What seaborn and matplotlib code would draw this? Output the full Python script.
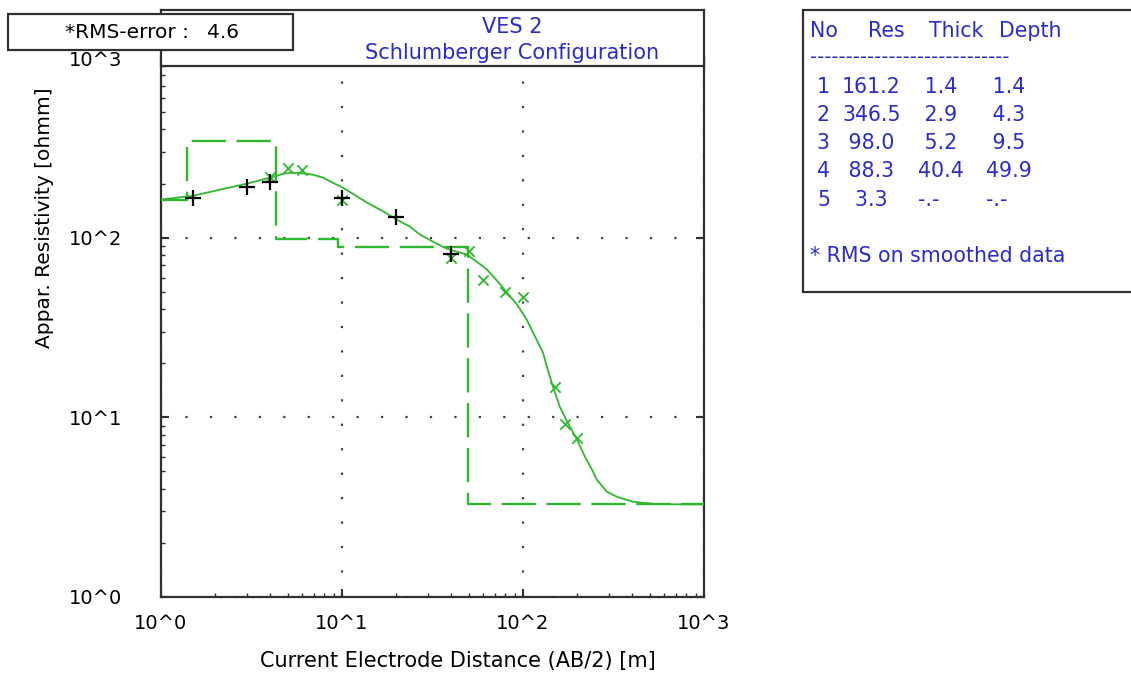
import matplotlib
matplotlib.use("Agg")
import matplotlib.pyplot as plt
from matplotlib.patches import Rectangle
from matplotlib.ticker import FixedLocator, LogLocator, NullFormatter
import pandas as pd
import seaborn as sns

# Field sounding: half electrode spacing AB/2 [m] and apparent resistivity [ohm m]
raw_ab2 = [1.5, 3, 4, 10, 20, 40]
raw_rho = [167, 192, 205, 167, 131, 81]
smooth_ab2 = [4, 5, 6, 10, 40, 50, 60, 80, 100, 150, 170, 200]
smooth_rho = [219, 245, 239, 163, 77, 84, 58, 50, 47, 14.8, 9.2, 7.7]

# Forward response of the layered model
curve_ab2 = [1.0, 1.5, 2.12, 3.0, 4.0, 4.37, 4.72, 5.36, 6.09, 6.92, 7.85,
             8.91, 10.1, 13.7, 16.9, 20.1, 23.8, 27, 31.8, 36.1, 39.5, 49,
             56, 63.3, 72, 81.6, 92.7, 105, 119, 129, 137, 146.5, 160, 177,
             199, 220, 241, 256, 291, 331, 405, 523, 700, 1000]
curve_rho = [163, 171, 185, 200, 216, 221, 227, 230, 228, 224, 216, 202, 190,
             157, 140, 126, 115, 104, 95, 89, 85.7, 80.5, 73, 66.4, 57.5, 49.4,
             42.4, 34.9, 27.0, 22.9, 18.4, 14.8, 11.4, 9.3, 7.5, 6.03, 5.1,
             4.49, 3.85, 3.61, 3.39, 3.30, 3.28, 3.28]

# Layered earth model
layer_no = [1, 2, 3, 4, 5]
layer_res = [161.2, 346.5, 98.0, 88.3, 3.3]
layer_thick = [1.4, 2.9, 5.2, 40.4, None]
layer_depth = [1.4, 4.3, 9.5, 49.9, None]

rms_error = 4.6
decade_labels = ["10^0", "10^1", "10^2", "10^3"]
decades = [1, 10, 100, 1000]
table_header = ["No", "Res", "Thick", "Depth"]

sns.set_style("white")
plt.rcParams["font.family"] = ["DejaVu Sans"]
plt.rcParams["text.color"] = "black"
plt.rcParams["xtick.labelcolor"] = "black"
plt.rcParams["ytick.labelcolor"] = "black"

W, H = 1131, 675
fig = plt.figure(figsize=(W / 100, H / 100), dpi=100)


def fx(px):
    return px / W


def fy(py):
    return 1 - py / H


GREEN = "#2eb82e"
BLUE = "#2b2bc8"
FRAME = "#303030"

ax = fig.add_axes([fx(161), fy(597), (704 - 161) / W, (597 - 58) / H])
ax.set_xscale("log")
ax.set_yscale("log")

# model as a step profile over depth
step_x = [decades[0]] + layer_depth[:-1] + [decades[-1]]
step_y = layer_res + [layer_res[-1]]
model_df = pd.DataFrame({"depth": step_x, "res": step_y})
sns.lineplot(data=model_df, x="depth", y="res", ax=ax, color=GREEN,
             linewidth=1.7, drawstyle="steps-post", estimator=None,
             sort=False, linestyle=(0, (14.5, 4.5)), zorder=3)

curve_df = pd.DataFrame({"ab2": curve_ab2, "rho": curve_rho})
sns.lineplot(data=curve_df, x="ab2", y="rho", ax=ax, color=GREEN,
             linewidth=1.3, estimator=None, sort=False, zorder=4)

sns.scatterplot(x=smooth_ab2, y=smooth_rho, ax=ax, marker="x", color=GREEN,
                s=55, linewidth=1.3, zorder=5)
sns.scatterplot(x=raw_ab2, y=raw_rho, ax=ax, marker="+", color="black",
                s=120, linewidth=1.6, zorder=6)

ax.set_xlim(decades[0], decades[-1])
ax.set_ylim(decades[0], decades[-1])
for axis in (ax.xaxis, ax.yaxis):
    axis.set_major_locator(FixedLocator(decades))
    axis.set_minor_locator(LogLocator(base=10, subs=range(2, 10)))
    axis.set_minor_formatter(NullFormatter())
ax.set_xticklabels(decade_labels)
ax.set_yticklabels(decade_labels)
ax.set_xlabel("")
ax.set_ylabel("")

ax.grid(which="major", color="#404040", linestyle=(0, (1, 10)), linewidth=1.6)
ax.tick_params(which="major", direction="in", length=6, width=1.5,
               color=FRAME, labelsize=14, left=True, right=True,
               bottom=True, top=False)
ax.tick_params(which="minor", direction="in", length=3, width=1.0,
               color=FRAME, left=True, bottom=True, right=False, top=False)
ax.tick_params(axis="x", which="major", pad=12)
ax.tick_params(axis="y", which="major", pad=28)
for sp in ax.spines.values():
    sp.set_color(FRAME)
    sp.set_linewidth(1.6)

fig.text(fx(458), fy(661), "Current Electrode Distance (AB/2) [m]",
         ha="center", va="center", fontsize=15)
fig.text(fx(45), fy(218), "Appar. Resistivity [ohmm]", rotation=90,
         ha="center", va="center", fontsize=14.5)

# title band above the plot
tax = fig.add_axes([fx(161), fy(66), (704 - 161) / W, (66 - 10) / H], zorder=3)
tax.set_facecolor("white")
tax.set_xticks([])
tax.set_yticks([])
for sp in tax.spines.values():
    sp.set_color(FRAME)
    sp.set_linewidth(1.6)
tax.text(0.647, 0.69, "VES 2", transform=tax.transAxes, ha="center",
         va="center", color=BLUE, fontsize=15)
tax.text(0.647, 0.23, "Schlumberger Configuration", transform=tax.transAxes,
         ha="center", va="center", color=BLUE, fontsize=15)

# RMS box
fig.add_artist(Rectangle((fx(8), fy(50)), (293 - 8) / W, (50 - 14) / H,
                         transform=fig.transFigure, facecolor="white",
                         edgecolor=FRAME, linewidth=1.6, zorder=10))
fig.text(fx(65), fy(33), "*RMS-error :", ha="left", va="center",
         fontsize=14.5, zorder=11)
fig.text(fx(207), fy(33), f"{rms_error}", ha="left", va="center",
         fontsize=14.5, zorder=11)

# layer table
fig.add_artist(Rectangle((fx(803), fy(292)), (1140 - 803) / W, (292 - 10) / H,
                         transform=fig.transFigure, facecolor="white",
                         edgecolor=FRAME, linewidth=1.6, zorder=10))

TS = 14.8
header_x = [810, 868, 929, 999]
for label, px in zip(table_header, header_x):
    fig.text(fx(px), fy(31), label, ha="left", va="center", color=BLUE,
             fontsize=TS, zorder=11)
fig.text(fx(810), fy(58), "-" * 28, ha="left", va="center", color=BLUE,
         fontsize=TS * 0.95, zorder=11)


def fmt(v, width):
    return "-.-" if v is None else f"{v:.1f}".rjust(width)


row_y = [87, 115, 143, 171, 200]
for n, r, t, d, py in zip(layer_no, layer_res, layer_thick, layer_depth, row_y):
    cells = [(817, str(n)), (842, fmt(r, 5)), (918, fmt(t, 4)),
             (986, fmt(d, 4))]
    for px, text in cells:
        fig.text(fx(px), fy(py), text, ha="left", va="center", color=BLUE,
                 fontsize=TS, zorder=11)
fig.text(fx(810), fy(256), "* RMS on smoothed data", ha="left", va="center",
         color=BLUE, fontsize=TS, zorder=11)

fig.savefig("out.png", dpi=100)
